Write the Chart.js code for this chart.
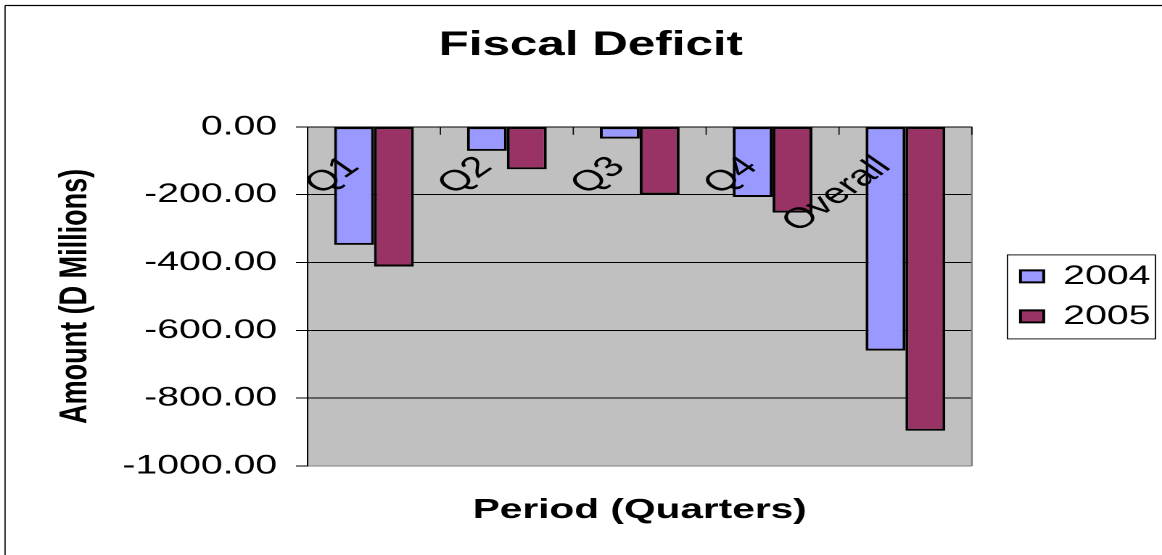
<!DOCTYPE html>
<html>
<head>
<meta charset="utf-8">
<title>Fiscal Deficit</title>
<script src="https://cdn.jsdelivr.net/npm/chart.js@4.4.1/dist/chart.umd.min.js"></script>
<style>
  html, body { margin: 0; padding: 0; background: #fff; overflow: hidden; }
  /* the original picture is stretched sideways, so draw narrow and scale up */
  #wrap { width: 801px; height: 555px; transform: scaleX(1.4507); transform-origin: 0 0; }
</style>
</head>
<body>
<div id="wrap"><canvas id="deficitChart" width="801" height="555"></canvas></div>
<script>
// chart data
var categories = ['Q1', 'Q2', 'Q3', 'Q4', 'Overall'];
var seriesNames = ['2004', '2005'];
var deficit2004 = [-348, -71, -35, -207, -660];
var deficit2005 = [-412, -125, -200, -253, -896];
var yTicks = [0, -200, -400, -600, -800, -1000];

var FONT = '"Liberation Sans", Arial, sans-serif';

// grey plot area, frame, category ticks and labels, legend box
var excelLook = {
    id: 'excelLook',
    afterLayout: function(chart) {
        // nudge title and legend to where excel put them
        var tb = chart.titleBlock;
        tb.left += 9.5;
        tb.right += 9.5;
        var lg = chart.legend;
        var w = lg.right - lg.left;
        lg.left = chart.chartArea.right + 20.5;
        lg.right = lg.left + w;
    },
    beforeDraw: function(chart) {
        var ctx = chart.ctx, a = chart.chartArea;
        ctx.save();
        ctx.fillStyle = '#fff';
        ctx.fillRect(0, 0, chart.width, chart.height);
        ctx.fillStyle = '#c0c0c0';
        ctx.fillRect(a.left, a.top, a.right - a.left, a.bottom - a.top);
        ctx.strokeStyle = '#000';
        ctx.lineWidth = 0.8;
        ctx.beginPath();
        ctx.moveTo(3.5, chart.height);
        ctx.lineTo(3.5, 5.5);
        ctx.stroke();
        ctx.lineWidth = 1.2;
        ctx.beginPath();
        ctx.moveTo(3.5, 5.5);
        ctx.lineTo(chart.width, 5.5);
        ctx.stroke();
        ctx.restore();
    },
    afterDatasetsDraw: function(chart) {
        var ctx = chart.ctx, a = chart.chartArea, xs = chart.scales.x;
        ctx.save();
        // right edge of plot
        ctx.strokeStyle = '#808080';
        ctx.lineWidth = 1.2;
        ctx.beginPath();
        ctx.moveTo(a.right, a.top);
        ctx.lineTo(a.right, a.bottom);
        ctx.stroke();
        // category tick marks hanging from the zero line
        var step = (xs.right - xs.left) / categories.length;
        ctx.strokeStyle = '#000';
        ctx.lineWidth = 0.8;
        for (var i = 1; i <= categories.length; i++) {
            var tx = xs.left + i * step;
            ctx.beginPath();
            ctx.moveTo(tx, a.top);
            ctx.lineTo(tx, a.top + 8);
            ctx.stroke();
        }
        // rotated category labels
        ctx.font = '29px ' + FONT;
        ctx.fillStyle = '#000';
        ctx.textAlign = 'right';
        ctx.textBaseline = 'top';
        categories.forEach(function(label, i) {
            var cx = xs.getPixelForValue(i);
            ctx.save();
            ctx.translate(cx - 25, a.top + 25);
            ctx.rotate(-Math.PI / 4);
            ctx.fillText(label, 0, 0);
            ctx.restore();
        });
        ctx.restore();
    },
    afterDraw: function(chart) {
        var ctx = chart.ctx, hb = chart.legend.legendHitBoxes;
        if (!hb || !hb.length) return;
        var first = hb[0], last = hb[hb.length - 1];
        ctx.save();
        ctx.strokeStyle = '#000';
        ctx.lineWidth = 0.9;
        ctx.strokeRect(first.left - 9, first.top - 8, 102, last.top + last.height - first.top + 17);
        ctx.restore();
    }
};

var ctx = document.getElementById('deficitChart').getContext('2d');
var deficitChart = new Chart(ctx, {
    type: 'bar',
    data: {
        labels: categories,
        datasets: [
            {
                label: seriesNames[0],
                data: deficit2004,
                backgroundColor: '#9999ff',
                borderColor: '#000',
                borderWidth: 2,
                borderSkipped: false,
                barPercentage: 1,
                categoryPercentage: 0.6
            },
            {
                label: seriesNames[1],
                data: deficit2005,
                backgroundColor: '#993366',
                borderColor: '#000',
                borderWidth: 2,
                borderSkipped: false,
                barPercentage: 1,
                categoryPercentage: 0.6
            }
        ]
    },
    options: {
        responsive: false,
        animation: false,
        devicePixelRatio: 2,
        layout: { padding: { left: 13, right: 18.5, top: 0, bottom: 0 } },
        plugins: {
            title: {
                display: true,
                text: 'Fiscal Deficit',
                color: '#000',
                font: { family: FONT, size: 34, weight: 'bold' },
                padding: { top: 25, bottom: 61 }
            },
            legend: {
                position: 'right',
                fullSize: false,
                labels: {
                    color: '#000',
                    font: { family: FONT, size: 27 },
                    boxWidth: 16,
                    boxHeight: 12,
                    padding: 13
                }
            },
            tooltip: { enabled: false }
        },
        scales: {
            x: {
                grid: { display: false },
                border: { display: false },
                ticks: { display: false },
                title: {
                    display: true,
                    text: 'Period (Quarters)',
                    color: '#000',
                    font: { family: FONT, size: 28, weight: 'bold' },
                    padding: { top: 0, bottom: 28 }
                },
                afterFit: function(scale) { scale.height = 89; }
            },
            y: {
                min: Math.min.apply(null, yTicks),
                max: Math.max.apply(null, yTicks),
                ticks: {
                    stepSize: yTicks[0] - yTicks[1],
                    color: '#000',
                    padding: 13,
                    font: { family: FONT, size: 27 },
                    callback: function(v) { return Number(v).toFixed(2); }
                },
                grid: {
                    color: function(c) { return c.tick && c.tick.value === yTicks[yTicks.length - 1] ? '#808080' : '#000'; },
                    tickColor: '#000',
                    tickLength: 8,
                    lineWidth: 1
                },
                border: { display: true, color: '#000', width: 1 },
                title: {
                    display: true,
                    text: 'Amount (D Millions)',
                    color: '#000',
                    font: { family: FONT, size: 27, weight: 'bold' },
                    padding: { top: 23, bottom: 0 }
                },
                afterFit: function(scale) { scale.width = 199; }
            }
        }
    },
    plugins: [excelLook]
});
</script>
</body>
</html>
